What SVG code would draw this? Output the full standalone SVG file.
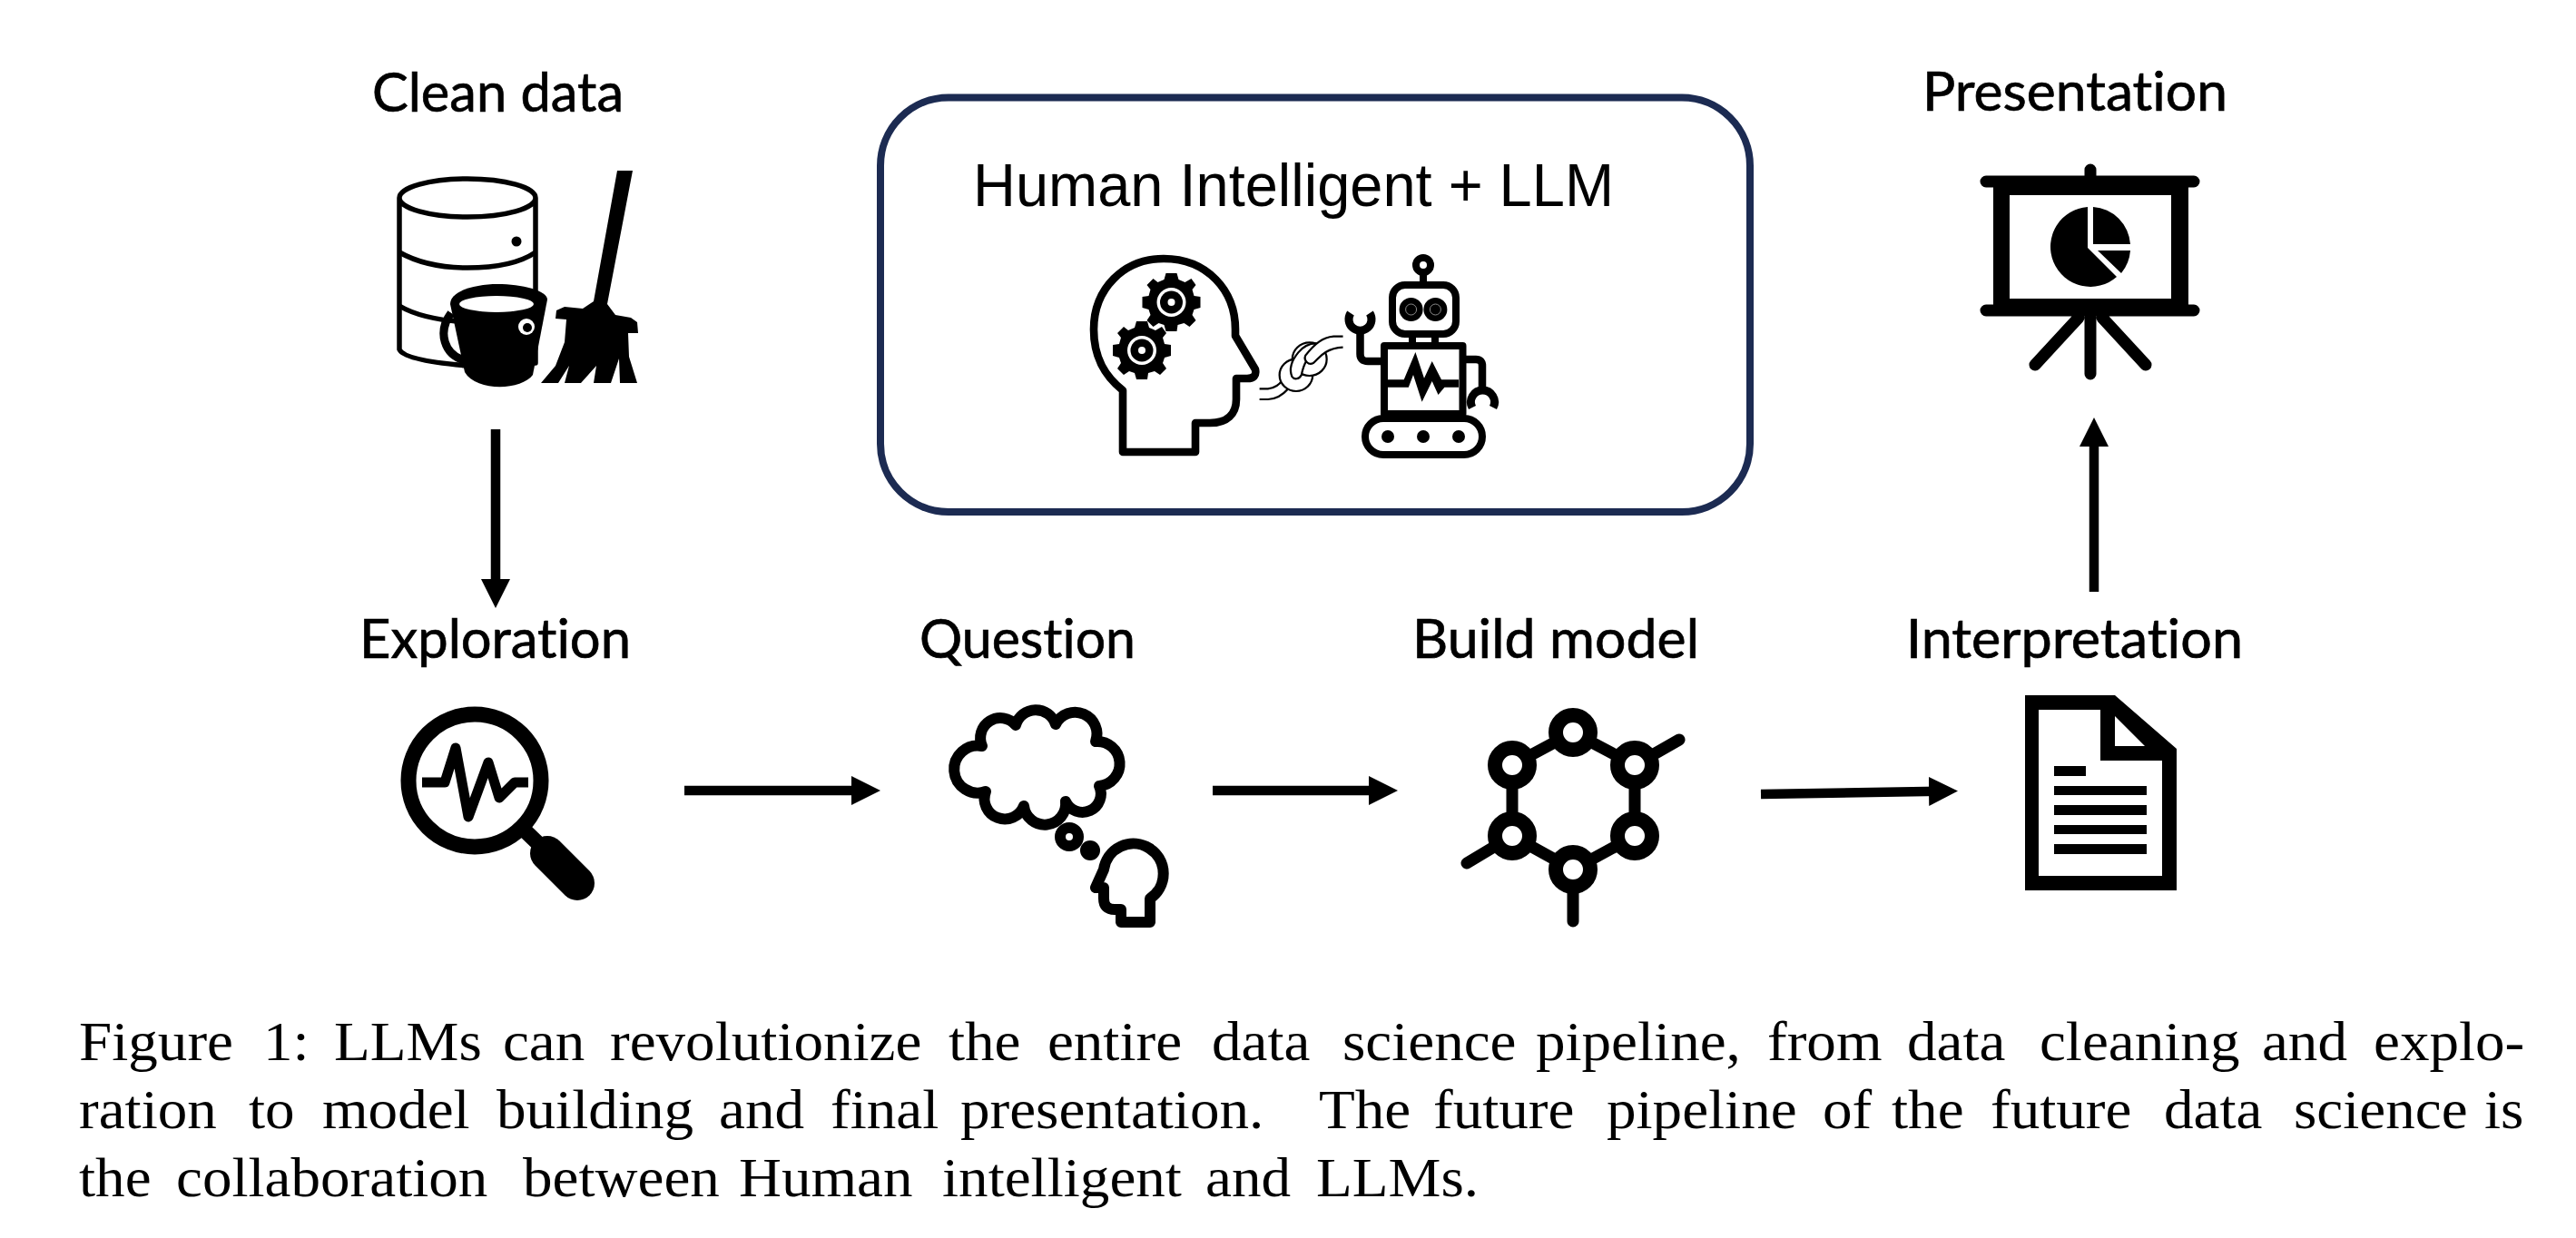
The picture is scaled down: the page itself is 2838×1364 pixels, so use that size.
<svg xmlns="http://www.w3.org/2000/svg" width="2838" height="1364" viewBox="0 0 2838 1364">
<style>
.lb{font-family:"Lato","Noto Sans",sans-serif;font-size:60px;fill:#000;stroke:#000;stroke-width:.7;font-variant-ligatures:none}
.cap{font-family:"Liberation Serif","DejaVu Serif",serif;font-size:62px;fill:#000}
.s{fill:none;stroke:#000;stroke-linejoin:round}
.c{fill:none;stroke:#000;stroke-width:10.5}
.k{fill:#fff;stroke:#000;stroke-width:6.5}
</style>
<defs>
<marker id="ah" markerUnits="userSpaceOnUse" markerWidth="34" markerHeight="34" refX="12" refY="17" orient="auto"><path d="M0,1 L32,17 L0,33 Z" fill="#000"/></marker>
<g id="gear"><path d="M-6,-32 L6,-32 L8,-25 L15,-22 L22,-26 L27,-19 L23,-14 L25,-7 L32,-6 L32,6 L25,8 L23,14 L27,20 L20,27 L14,23 L7,25 L6,32 L-6,32 L-8,25 L-14,23 L-20,27 L-27,20 L-23,14 L-25,8 L-32,6 L-32,-6 L-25,-7 L-23,-14 L-27,-19 L-20,-26 L-15,-22 L-8,-25 Z" fill="#000"/><circle r="16" fill="#fff"/><circle r="12.5" fill="#000"/><circle r="4" fill="#fff"/></g>
</defs>
<rect width="2838" height="1364" fill="#fff"/>
<g id="connectors">
<line class="c" x1="546" y1="473" x2="546" y2="650" marker-end="url(#ah)"/>
<line class="c" x1="754" y1="871" x2="950" y2="871" marker-end="url(#ah)"/>
<line class="c" x1="1336" y1="871" x2="1520" y2="871" marker-end="url(#ah)"/>
<line class="c" x1="1940" y1="875" x2="2137" y2="871.800" marker-end="url(#ah)"/>
<line class="c" x1="2307" y1="652" x2="2307" y2="480" marker-end="url(#ah)"/>
</g>
<g id="node-clean-data">
<text class="lb" x="410" y="123" textLength="277" lengthAdjust="spacingAndGlyphs">Clean data</text>
<path class="s" stroke-width="5.5" fill="#fff" d="M440,218 V385 Q445,397 515,403 L590,400 V218 A75,21 0 0 0 440,218 A75,21 0 0 0 590,218"/>
<path class="s" stroke-width="5.5" d="M440,278 Q470,295 515,295 Q565,295 590,278 M440,337 Q465,352 515,355"/>
<circle cx="569" cy="266" r="5.5" fill="#000"/>
<path fill="#000" d="M496,335 C496,320 525,313 548,313 C575,313 603,320 603,330 L587,413 C575,430 525,432 512,410 Z"/>
<ellipse cx="547" cy="335" rx="41" ry="9" fill="#fff"/>
<path class="s" stroke="#fff" stroke-width="9" d="M497,345 C482,365 488,392 515,398 C535,400 555,390 572,376"/>
<path class="s" stroke-width="4" d="M497,345 C482,365 488,392 515,398 C535,400 555,390 572,376"/>
<circle cx="580" cy="360" r="9" fill="#fff"/>
<circle cx="581" cy="361" r="5" fill="#000"/>
<polygon fill="#000" points="680,188 697,188 669,335 678,347 695,350 702,355 703,367 692,367 693,393 702,422 683,422 682,395 673,422 654,422 657,403 640,422 622,422 627,403 615,422 596,422 612,403 622,377 624,352 612,351 613,342 622,338 642,340 654,332"/>
</g>
<g id="node-human-llm">
<rect x="970" y="107.500" width="958" height="456.500" rx="75" fill="none" stroke="#1c2b52" stroke-width="8"/>
<text x="1072" y="227" font-family="Liberation Sans, Arial, sans-serif" font-size="67" textLength="706" lengthAdjust="spacingAndGlyphs">Human Intelligent + LLM</text>
<path class="s" stroke-width="8.6" stroke-linejoin="miter" d="M1237,498 V430 C1218,415 1205,395 1205,363 C1205,318 1238,285 1282,285 C1330,285 1361,320 1361,363 V370 L1383,407 Q1385,417 1374,417 H1362 V440 C1362,456 1352,466 1333,466 H1317 V498 Z"/>
<use href="#gear" x="1290.500" y="333"/>
<use href="#gear" x="1258" y="386"/>
<g transform="translate(1130,250) scale(.3444,.3333)">
<path class="k" style="fill:none" d="M748,535 H775 Q805,532 822,505 M748,570 H775 Q810,570 840,535"/>
<circle class="k" cx="865" cy="490" r="53"/>
<circle class="k" cx="908" cy="437" r="55"/>
<path class="k" d="M852,495 C842,470 852,440 872,415 C888,395 905,385 928,385 L925,415 C905,425 890,450 882,490 C875,505 858,505 852,495 Z"/>
<path class="k" d="M1015,362 H985 C950,365 925,385 895,425 C888,442 905,458 920,450 C935,440 950,402 1015,398"/>
</g>
<circle cx="1568" cy="292" r="8" class="s" stroke-width="8" fill="#fff"/>
<path d="M1568,300 V314 M1556,368 V378 M1581,368 V378" class="s" stroke-width="8"/>
<rect x="1534" y="314" width="70" height="54" rx="14" class="s" stroke-width="8"/>
<circle cx="1554.600" cy="341" r="13" fill="#000"/><circle cx="1581.400" cy="341" r="13" fill="#000"/>
<circle cx="1554.600" cy="341" r="6" fill="none" stroke="#888" stroke-width="1"/><circle cx="1581.400" cy="341" r="6" fill="none" stroke="#888" stroke-width="1"/>
<rect x="1525" y="381" width="86.500" height="75" class="s" stroke-width="8" stroke-linejoin="miter"/>
<polygon fill="#000" points="1525,418.300 1546.700,418.300 1559.400,388 1569,416.700 1577.700,398 1588,418.300 1607,418.300 1607,426.700 1591.400,426.700 1584.500,435 1577.700,420 1566.600,442.700 1557,413 1551.800,426.700 1525,426.700"/>
<path class="s" stroke-width="8.500" d="M1521,398 H1507 Q1498.500,398 1498.500,390 V365"/>
<path style="stroke-linejoin:miter" class="s" stroke-width="9" d="M1488,345 A12.500,12.500 0 1 0 1509,345"/>
<path class="s" stroke-width="8.500" d="M1615,396 H1626 Q1633,396 1633,403 V430"/>
<path style="stroke-linejoin:miter" class="s" stroke-width="9" d="M1622,449 A13,13 0 1 1 1645,449"/>
<rect x="1504" y="461" width="129" height="40" rx="20" class="s" stroke-width="8"/>
<circle cx="1529" cy="481" r="7" fill="#000"/><circle cx="1568" cy="481" r="7" fill="#000"/><circle cx="1607" cy="481" r="7" fill="#000"/>
</g>
<g id="node-presentation">
<text class="lb" x="2118" y="122" textLength="336" lengthAdjust="spacingAndGlyphs">Presentation</text>
<path class="s" stroke-width="13" stroke-linecap="round" d="M2188,200 H2417 M2188,342 H2417 M2303,187 V200 M2303,342 V412 M2290,350 L2242,402 M2316,350 L2364,402"/>
<path fill="#000" fill-rule="evenodd" d="M2196,200 H2411 V342 H2196 Z M2214,215 V329 H2392 V215 Z"/>
<path fill="#000" d="M2300,228 V273 L2332,305 A44,44 0 1 1 2300,228 Z M2306,228 A44,44 0 0 1 2347,269 H2306 Z M2311,276 H2347 A44,44 0 0 1 2337,301 Z"/>
</g>
<g id="node-exploration">
<text class="lb" x="396" y="725" textLength="299" lengthAdjust="spacingAndGlyphs">Exploration</text>
<circle cx="523" cy="860" r="73" class="s" stroke-width="17"/>
<path class="s" stroke-width="11" d="M465,862 H490 L502,824 L516,900 L538,840 L550,879 L567,862 H582"/>
<path class="s" stroke-width="17" d="M576,913 L604,940"/>
<path class="s" stroke-width="38" stroke-linecap="round" d="M603,940 L636,973"/>
</g>
<g id="node-question">
<text class="lb" x="1013" y="725" textLength="238" lengthAdjust="spacingAndGlyphs">Question</text>
<path class="s" stroke-width="12" d="M1082,822 A22,22 0 0 1 1119,799 A23,23 0 0 1 1163,798 A24,24 0 0 1 1207,817 A24,24 0 0 1 1211,866 A20,20 0 0 1 1174,883 A23,23 0 0 1 1128,888 A22,22 0 0 1 1086,872 A26,26 0 1 1 1082,822 Z"/>
<circle cx="1178" cy="922" r="10" class="s" stroke-width="12"/>
<circle cx="1201" cy="937" r="11" fill="#000"/>
<path class="s" stroke-width="12" stroke-linejoin="miter" d="M1235,1016 H1267 V990 A33,33 0 1 0 1216,958 L1207,978 H1216 V990 Q1216,1002 1228,1002 H1235 Z"/>
</g>
<g id="node-build-model">
<text class="lb" x="1556" y="725" textLength="316" lengthAdjust="spacingAndGlyphs">Build model</text>
<path class="s" stroke-width="13" stroke-linecap="round" d="M1733,807 L1801,843 V921 L1733,958 L1666,921 V843 Z M1801,843 L1850,815 M1666,921 L1616,951 M1733,958 V1015"/>
<g fill="#fff" stroke="#000" stroke-width="16"><circle cx="1733" cy="807" r="19"/><circle cx="1801" cy="843" r="19"/><circle cx="1801" cy="921" r="19"/><circle cx="1733" cy="958" r="19"/><circle cx="1666" cy="921" r="19"/><circle cx="1666" cy="843" r="19"/></g>
</g>
<g id="node-interpretation">
<text class="lb" x="2100" y="725" textLength="371" lengthAdjust="spacingAndGlyphs">Interpretation</text>
<path fill="#000" fill-rule="evenodd" d="M2231,766 H2330 L2398,825 V981 H2231 Z M2246,782 V965 H2382 V838 H2314 V782 Z M2330,789 V822 H2363 Z"/>
<path fill="#000" d="M2263,844 H2298 V855 H2263 Z M2263,866 H2365 V876 H2263 Z M2263,887 H2365 V898 H2263 Z M2263,909 H2365 V919 H2263 Z M2263,930 H2365 V941 H2263 Z"/>
</g>
<g id="caption" transform="scale(1.05,1)">
<text class="cap" y="1168"><tspan x="82.900">Figure </tspan><tspan x="276.200">1: </tspan><tspan x="350.500">LLMs </tspan><tspan x="527.600">can </tspan><tspan x="640">revolutionize </tspan><tspan x="995.200">the </tspan><tspan x="1099">entire </tspan><tspan x="1271.400">data </tspan><tspan x="1408.600">science </tspan><tspan x="1611.400">pipeline, </tspan><tspan x="1854.300">from </tspan><tspan x="2001">data </tspan><tspan x="2140">cleaning </tspan><tspan x="2373.300">and </tspan><tspan x="2490.500">explo-</tspan></text>
<text class="cap" y="1243"><tspan x="82.900">ration </tspan><tspan x="261">to </tspan><tspan x="338.100">model </tspan><tspan x="521">building </tspan><tspan x="754.300">and </tspan><tspan x="871.400">final </tspan><tspan x="1007.600">presentation. </tspan><tspan x="1383.800">The </tspan><tspan x="1503.800">future </tspan><tspan x="1685.700">pipeline </tspan><tspan x="1912.400">of </tspan><tspan x="1984.800">the </tspan><tspan x="2088.600">future </tspan><tspan x="2270.500">data </tspan><tspan x="2406.700">science </tspan><tspan x="2606.700">is</tspan></text>
<text class="cap" y="1318"><tspan x="82.900">the </tspan><tspan x="184.800">collaboration </tspan><tspan x="548.600">between </tspan><tspan x="775.200">Human </tspan><tspan x="988.600">intelligent </tspan><tspan x="1264.800">and </tspan><tspan x="1381">LLMs.</tspan></text>
</g>
</svg>
